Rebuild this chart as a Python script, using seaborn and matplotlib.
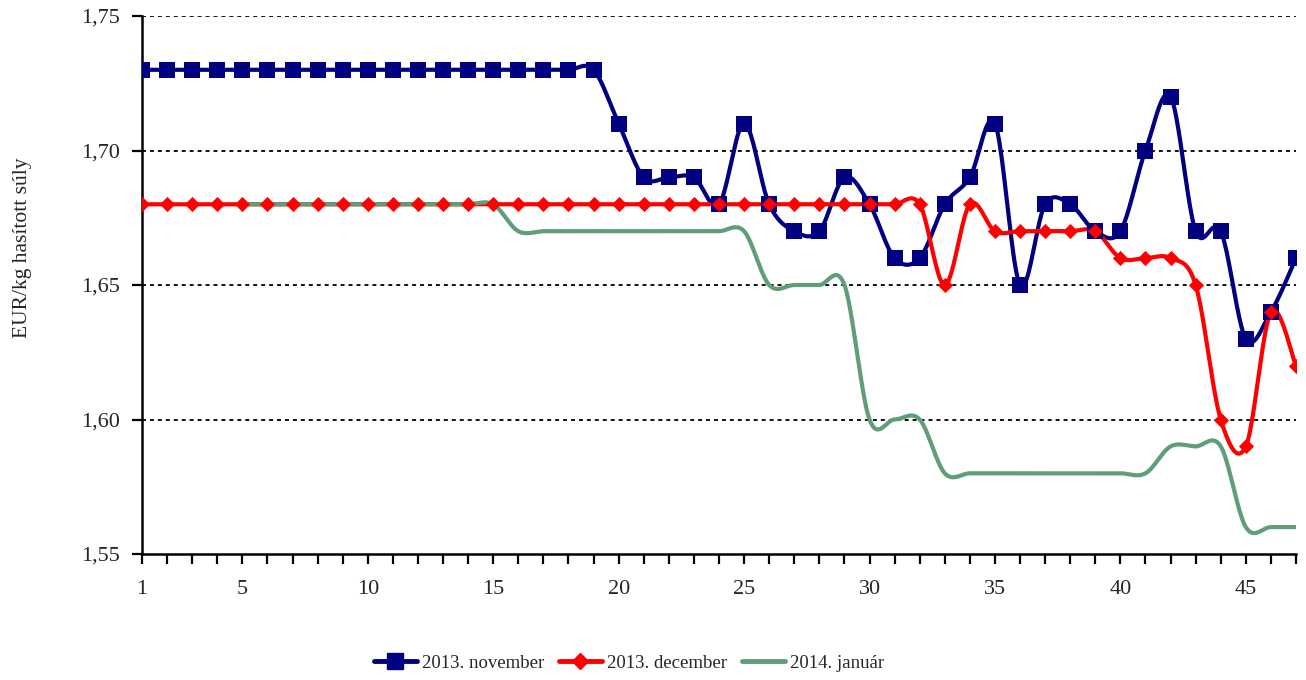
import numpy as np
import pandas as pd
import matplotlib.pyplot as plt
import seaborn as sns
from matplotlib.lines import Line2D

weeks = list(range(1, 48))

nov_2013 = [1.73] * 19 + [1.71, 1.69, 1.69, 1.69, 1.68, 1.71, 1.68, 1.67, 1.67, 1.69,
                          1.68, 1.66, 1.66, 1.68, 1.69, 1.71, 1.65, 1.68, 1.68, 1.67,
                          1.67, 1.70, 1.72, 1.67, 1.67, 1.63, 1.64, 1.66]
dec_2013 = [1.68] * 32 + [1.65, 1.68, 1.67, 1.67, 1.67, 1.67, 1.67, 1.66, 1.66, 1.66,
                          1.65, 1.60, 1.59, 1.64, 1.62]
jan_weeks = list(range(5, 48))
jan_2014 = [1.68] * 11 + [1.67] * 10 + [1.65, 1.65, 1.65, 1.65, 1.60, 1.60, 1.60,
                                         1.58, 1.58, 1.58, 1.58, 1.58, 1.58, 1.58,
                                         1.58, 1.58, 1.59, 1.59, 1.59, 1.56, 1.56, 1.56]

labels = ["2013. november", "2013. december", "2014. január"]
colors = ["#000080", "#FF0000", "#5F9E78"]
y_ticks = [1.55, 1.60, 1.65, 1.70, 1.75]


def smooth(x, y, n=24):
    # bezier smoothing like a spreadsheet "smoothed line"
    p = np.column_stack([x, y]).astype(float)
    out = []
    for i in range(len(p) - 1):
        prev = p[i - 1] if i > 0 else p[i]
        nxt = p[i + 2] if i + 2 < len(p) else p[i + 1]
        c1 = p[i] + (p[i + 1] - prev) / 6
        c2 = p[i + 1] - (nxt - p[i]) / 6
        t = np.linspace(0, 1, n)[:, None]
        seg = ((1 - t) ** 3) * p[i] + 3 * ((1 - t) ** 2) * t * c1 + 3 * (1 - t) * t ** 2 * c2 + t ** 3 * p[i + 1]
        out.append(seg if i == 0 else seg[1:])
    seg = np.vstack(out)
    return seg[:, 0], seg[:, 1]


series = [(weeks, nov_2013), (weeks, dec_2013), (jan_weeks, jan_2014)]
curves = []
for name, (xs, ys) in zip(labels, series):
    sx, sy = smooth(xs, ys)
    curves.append(pd.DataFrame({"week": sx, "price": sy, "series": name}))
curve_df = pd.concat(curves, ignore_index=True)

sns.set_style("white")
plt.rcParams["font.family"] = ["Liberation Serif", "DejaVu Serif"]

fig = plt.figure(figsize=(13.06, 6.8), dpi=100)
ax = fig.add_axes([142 / 1306, 1 - 554 / 680, (1296 - 142) / 1306, (554 - 16) / 680])

for y in y_ticks[1:]:
    ax.axhline(y, color="black", linestyle=(0, (2.2, 2.2)), linewidth=1.3, zorder=1)

sns.lineplot(data=curve_df, x="week", y="price", hue="series", palette=colors,
             hue_order=labels, sort=False, linewidth=3.0, legend=False, ax=ax, zorder=3)

sns.scatterplot(x=weeks, y=nov_2013, marker="s", s=120, color=colors[0],
                linewidth=0, ax=ax, zorder=4)
sns.scatterplot(x=weeks, y=dec_2013, marker="D", s=60, color=colors[1],
                linewidth=0, ax=ax, zorder=5)

ax.set_xlim(1, 47)
ax.set_ylim(1.55, 1.75)
ax.set_yticks(y_ticks)
ax.set_yticklabels([f"{v:.2f}".replace(".", ",") for v in y_ticks], fontsize=16)
ax.set_xticks(weeks)
ax.set_xticklabels([str(w) if (w == 1 or w % 5 == 0) else "" for w in weeks], fontsize=16)
ax.tick_params(axis="both", direction="out", length=7, width=1.6, color="black",
               bottom=True, left=True, pad=9)
ax.tick_params(axis="x", pad=12)
ax.set_xlabel("")
ax.set_ylabel("")

for side in ["top", "right"]:
    ax.spines[side].set_visible(False)
for side in ["left", "bottom"]:
    ax.spines[side].set_color("black")
    ax.spines[side].set_linewidth(1.8)

fig.text(23 / 1306, 1 - 248 / 680, "EUR/kg hasított súly", rotation=90,
         ha="center", va="center", fontsize=15.5)

handles = [
    Line2D([], [], color=colors[0], linewidth=3.5, marker="s", markersize=11),
    Line2D([], [], color=colors[1], linewidth=3.5, marker="D", markersize=8),
    Line2D([], [], color=colors[2], linewidth=3.5),
]
fig.legend(handles, labels, loc="center", bbox_to_anchor=(629 / 1306, 1 - 663 / 680),
           ncol=3, frameon=False, fontsize=13.5, handlelength=2.3, handletextpad=0.3,
           columnspacing=0.75)

fig.savefig("out.png", dpi=100)
